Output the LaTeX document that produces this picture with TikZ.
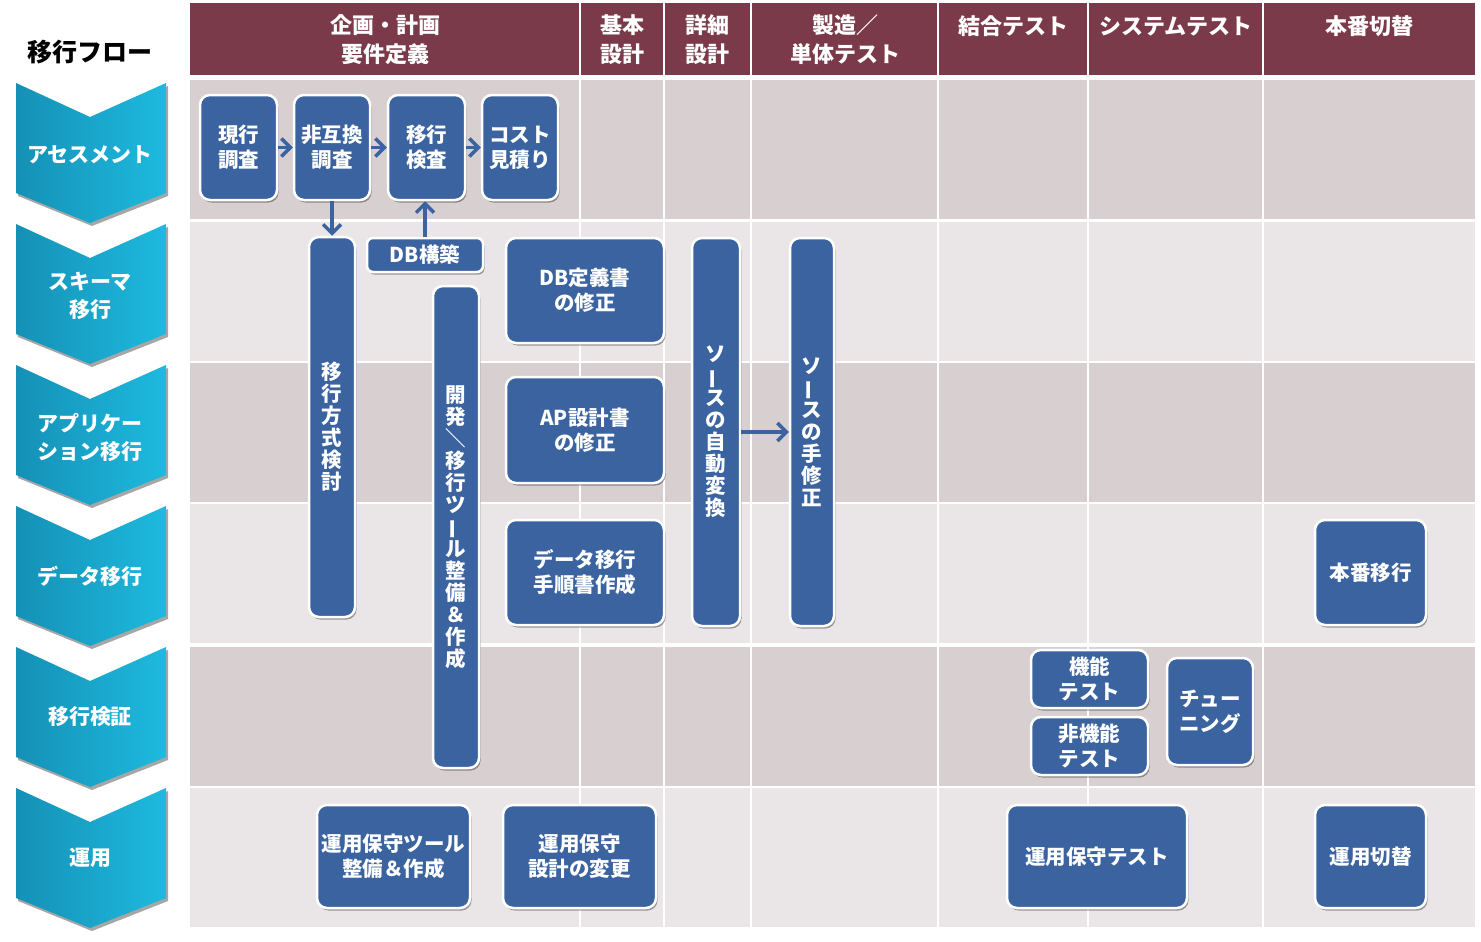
\documentclass[tikz,border=0pt]{standalone}
\usepackage{fontspec}
\setmainfont{Noto Sans CJK JP}
\usetikzlibrary{arrows.meta,shadows}
\definecolor{hdrmaroon}{HTML}{7B3A4A}
\definecolor{rowdark}{HTML}{D8CFD1}
\definecolor{rowlight}{HTML}{EAE6E7}
\definecolor{boxblue}{HTML}{3A63A0}
\definecolor{tealL}{HTML}{1590B6}
\definecolor{tealR}{HTML}{1EBADF}
\newcommand\vbar{\rotatebox[origin=c]{90}{ー}}
\newcommand\vslash{\rotatebox[origin=c]{90}{／}}
\begin{document}
\begin{tikzpicture}[x=1pt,y=-1pt,
  box/.style={draw=white, line width=2.5pt, fill=boxblue, rounded corners=10pt,
    text=white, font=\bfseries\fontsize{20.5}{25}\selectfont, align=center, inner sep=0pt,
    drop shadow={shadow xshift=1.5pt, shadow yshift=-2.5pt, opacity=0.35, fill=black}},
  vbox/.style={box, font=\bfseries\fontsize{20.5}{22}\selectfont},
  flow/.style={draw=boxblue, line width=3.5pt, -{Straight Barb[length=9pt,width=18pt,line width=3.5pt]}},
  hdr/.style={text=white, font=\bfseries\fontsize{22}{29}\selectfont, align=center},
  chev/.style={left color=tealL, right color=tealR, draw=none,
    drop shadow={shadow xshift=2pt, shadow yshift=-3pt, opacity=0.35, fill=black}},
  chevtext/.style={text=white, font=\bfseries\fontsize{21}{28}\selectfont, align=center},
]
% background
\fill[white] (0,0) rectangle (1481,942);
\useasboundingbox (0,0) rectangle (1481,942);
% header
\fill[hdrmaroon] (190,3) rectangle (1475,75);
% rows
\foreach \t/\c in {80/rowdark,222/rowlight,363/rowdark,504/rowlight,647/rowdark,788/rowlight}
  \fill[\c] (190,\t) rectangle (1475,{\t+139});
% column separators
\foreach \x in {580,664,751,938,1088,1263}
  \draw[white, line width=2.5pt] (\x,0) -- (\x,930);
% header texts
\node[hdr] (h1) at (385,40) {企画・計画\\要件定義};
\node[hdr] (h2) at (622,40) {基本\\設計};
\node[hdr] (h3) at (707,40) {詳細\\設計};
\node[hdr] (h4) at (845,40) {製造／\\単体テスト};
\node[hdr] (h5) at (1013,26) {結合テスト};
\node[hdr] (h6) at (1176,26) {システムテスト};
\node[hdr] (h7) at (1369,26) {本番切替};
% flow title
\node[font=\bfseries\fontsize{25}{28}\selectfont, text=black] (title) at (90,52) {移行フロー};
% chevrons
\foreach \T in {83,224,365,506,647,788}
  \path[chev] (16,\T) -- (90,{\T+34}) -- (166,\T) -- (166,{\T+110}) -- (90,{\T+140}) -- (16,{\T+110}) -- cycle;
\node[chevtext] (c1) at (90,155) {アセスメント};
\node[chevtext] (c2) at (90,296) {スキーマ\\移行};
\node[chevtext] (c3) at (90,437) {アプリケー\\ション移行};
\node[chevtext] (c4) at (90,576) {データ移行};
\node[chevtext] (c5) at (90,717) {移行検証};
\node[chevtext] (c6) at (90,858) {運用};
% boxes
\node[box, minimum width=77pt, minimum height=105pt] (genko) at (238.5,147.5) {現行\\調査};
\node[box, minimum width=76pt, minimum height=105pt] (higokan) at (332,147.5) {非互換\\調査};
\node[box, minimum width=77pt, minimum height=105pt] (kensa) at (426.5,147.5) {移行\\検査};
\node[box, minimum width=76pt, minimum height=105pt] (cost) at (520,147.5) {コスト\\見積り};
\node[vbox, minimum width=46pt, minimum height=380pt] (hoshiki) at (332,427) {移\\行\\方\\式\\検\\討};
\node[box, rounded corners=6pt, minimum width=116pt, minimum height=34pt] (db) at (425,255) {DB構築};
\node[vbox, minimum width=46pt, minimum height=482pt] (tool) at (456,527) {開\\発\\\vslash\\移\\行\\ツ\\\vbar\\ル\\整\\備\\＆\\作\\成};
\node[box, minimum width=158pt, minimum height=105pt] (dbdef) at (585,290.5) {DB定義書\\の修正};
\node[box, minimum width=158pt, minimum height=106pt] (ap) at (585,430) {AP設計書\\の修正};
\node[box, minimum width=158pt, minimum height=105pt] (tejun) at (585,572.5) {データ移行\\手順書作成};
\node[vbox, minimum width=48pt, minimum height=388pt] (jido) at (716,432) {ソ\\\vbar\\ス\\の\\自\\動\\変\\換};
\node[vbox, minimum width=44pt, minimum height=388pt] (te) at (812,432) {ソ\\\vbar\\ス\\の\\手\\修\\正};
\node[box, minimum width=111pt, minimum height=105pt] (honban) at (1370.5,572.5) {本番移行};
\node[box, minimum width=117pt, minimum height=58pt] (kino) at (1089.5,679) {機能\\テスト};
\node[box, minimum width=117pt, minimum height=58pt] (hikino) at (1089.5,746) {非機能\\テスト};
\node[box, minimum width=86pt, minimum height=107pt] (tune) at (1210,711.5) {チュー\\ニング};
\node[box, minimum width=153pt, minimum height=103pt] (utool) at (393.5,856.5) {運用保守ツール\\整備＆作成};
\node[box, minimum width=153pt, minimum height=103pt] (usekkei) at (579.5,856.5) {運用保守\\設計の変更};
\node[box, minimum width=180pt, minimum height=103pt] (utest) at (1097,856.5) {運用保守テスト};
\node[box, minimum width=111pt, minimum height=103pt] (ukiri) at (1370.5,856.5) {運用切替};
% connectors
\draw[flow] (genko.east) -- (higokan.west);
\draw[flow] (higokan.east) -- (kensa.west);
\draw[flow] (kensa.east) -- (cost.west);
\draw[flow] (higokan.south) -- (hoshiki.north);
\draw[flow] (db.north) -- (db.north |- kensa.south);
\draw[flow] (jido.east) -- (te.west);
\end{tikzpicture}
\end{document}
